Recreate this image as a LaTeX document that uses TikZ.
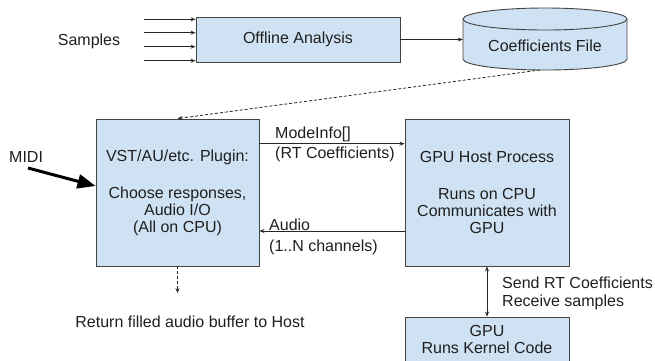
\documentclass[tikz,border=0pt]{standalone}
\usepackage{fontspec}
\setmainfont{Liberation Sans}
\usetikzlibrary{arrows.meta}
\definecolor{boxfill}{HTML}{CFE2F3}
\definecolor{boxline}{HTML}{434343}
\definecolor{lnk}{HTML}{262626}
\definecolor{txt}{HTML}{1F1F1F}
\begin{document}
\begin{tikzpicture}[x=1pt,y=1pt,
  every node/.style={font=\fontsize{16}{17}\selectfont, text=txt, inner sep=0pt},
  blk/.style={draw=boxline, fill=boxfill, line width=0.9pt, align=center},
  conn/.style={line width=0.8pt, draw=lnk, -{Stealth[length=5pt,width=4pt]}},
  dsh/.style={conn, dash pattern=on 3pt off 2pt}
]
\clip (0,0) rectangle (655,-360);
% top row
\node[blk, minimum width=204, minimum height=45] (oa) at (298,-39.5) {Offline Analysis};
\node (samp) at (89,-41) {Samples};
\coordinate (s1) at (144,-19.3);
\coordinate (s2) at (144,-32.7);
\coordinate (s3) at (144,-46.7);
\coordinate (s4) at (144,-60.7);
\foreach \s in {s1,s2,s3,s4} \draw[conn] (\s) -- (\s -| oa.west);
% cylinder
\fill[boxfill] (463,-19) -- (463,-59) arc[start angle=180,end angle=360,x radius=82,y radius=11] -- (627,-19) arc[start angle=0,end angle=180,x radius=82,y radius=11] -- cycle;
\draw[boxline, line width=0.9pt] (463,-19) -- (463,-59) arc[start angle=180,end angle=360,x radius=82,y radius=11] -- (627,-19);
\draw[boxline, line width=0.9pt] (545,-19) ellipse[x radius=82,y radius=11];
\node[minimum width=164, minimum height=20] (cf) at (545,-46) {Coefficients File};
\draw[conn] (oa.east) -- (oa.east -| cf.west);
% middle
\node[blk, minimum width=163, minimum height=147] (pl) at (177.5,-192.5)
  {VST/AU/etc. Plugin:\\[20pt]Choose responses,\\Audio I/O\\(All on CPU)};
\node[blk, minimum width=164, minimum height=147] (hp) at (487,-192.5)
  {GPU Host Process\\[20pt]Runs on CPU\\Communicates with\\GPU};
\node[blk, minimum width=164, minimum height=44] (gpu) at (487,-339)
  {GPU\\Runs Kernel Code};
\coordinate (cfb) at (540,-70);
\draw[dsh] (cfb) -- (pl.north);
\coordinate (ya) at (0,-143.7);
\coordinate (yb) at (0,-231);
\draw[conn] (pl.east |- ya) -- (hp.west |- ya);
\draw[conn] (hp.west |- yb) -- (pl.east |- yb);
\node[anchor=west, align=left] (mil) at (275,-144) {ModeInfo[]\\[3pt](RT Coefficients)};
\node[anchor=west, align=left] (aul) at (269,-237) {Audio\\[3.7pt](1..N channels)};
\draw[conn, {Stealth[length=5pt,width=4pt]}-{Stealth[length=5pt,width=4pt]}] (hp.south) -- (gpu.north);
\node[anchor=west, align=left] (srl) at (502,-293.5) {Send RT Coefficients\\[1pt]Receive samples};
% MIDI
\node[anchor=west] (midi) at (9,-157) {MIDI};
\coordinate (ms) at (28,-168);
\coordinate (me) at (0,-186);
\draw[line width=3pt, draw=black, -{Triangle[length=18pt,width=14pt]}] (ms) -- (pl.west |- me);
% bottom
\coordinate (pe) at (177.5,-293);
\draw[dsh] (pl.south) -- (pe);
\node (ret) at (190,-322) {Return filled audio buffer to Host};
\end{tikzpicture}
\end{document}
